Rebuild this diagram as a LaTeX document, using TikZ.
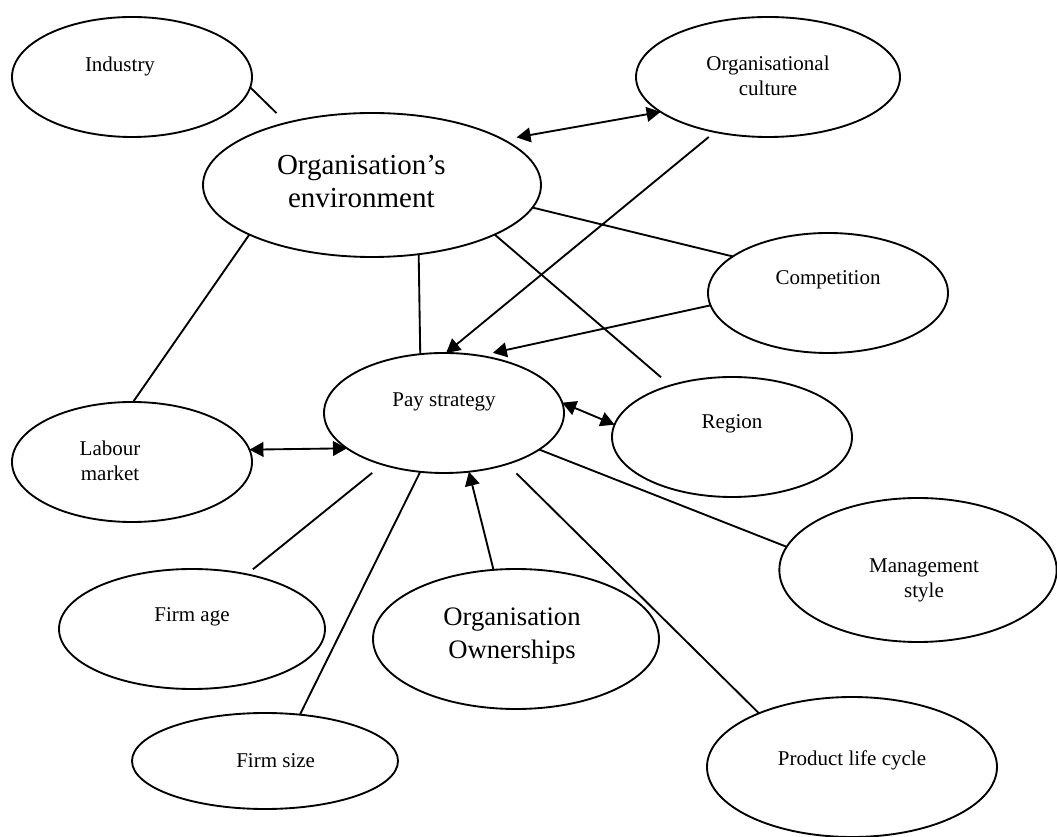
\documentclass[tikz,border=0pt]{standalone}
\usepackage{fontspec}
\setmainfont{Liberation Serif}
\usetikzlibrary{shapes.geometric,arrows.meta}

\tikzset{
  oval/.style={draw, ellipse, line width=1.4pt, inner sep=0pt, outer sep=0pt},
  txt/.style={font=\fontsize{15.75}{18.5}\selectfont, align=center},
  bigtxt/.style={font=\fontsize{21.75}{24.75}\selectfont, align=center},
  link/.style={line width=1.4pt},
}

\begin{document}
\begin{tikzpicture}[x=0.75pt, y=-0.75pt, >={Triangle[length=10.5pt,width=11pt]}]
    \useasboundingbox (0,0) rectangle (1057,837);
    \node[oval, minimum width=180pt, minimum height=90pt,
      label={[txt, xshift=-9pt, yshift=8pt]center:Industry}] (ind) at (132,77) {};
    \node[oval, minimum width=198pt, minimum height=90pt,
      label={[txt, yshift=1pt]center:{Organisational\\culture}}] (cult) at (768,77) {};
    \node[oval, minimum width=253.5pt, minimum height=108pt,
      label={[bigtxt, xshift=-8pt, yshift=2.5pt]center:{Organisation’s\\environment}}] (env) at (372,185) {};
    \node[oval, minimum width=180pt, minimum height=90pt,
      label={[txt, yshift=10pt]center:Competition}] (comp) at (828,293) {};
    \node[oval, minimum width=180pt, minimum height=90pt,
      label={[txt, yshift=8pt]center:Pay strategy}] (pay) at (444,413) {};
    \node[oval, minimum width=180pt, minimum height=90pt,
      label={[txt, yshift=10pt]center:Region}] (reg) at (732,437) {};
    \node[oval, minimum width=180pt, minimum height=90pt,
      label={[txt, xshift=-16.5pt, yshift=1pt]center:{Labour\\market}}] (lab) at (132,462) {};
    \node[oval, minimum width=208pt, minimum height=108pt,
      label={[txt, xshift=4.5pt, yshift=-8pt]center:{Management\\style}}] (mgmt) at (918,570) {};
    \node[oval, minimum width=199.5pt, minimum height=90pt,
      label={[txt, yshift=9pt]center:Firm age}] (age) at (192,629) {};
    \node[oval, minimum width=199.5pt, minimum height=72pt,
      label={[txt, xshift=8pt]center:Firm size}] (size) at (265,761) {};
    \node[oval, minimum width=214.5pt, minimum height=105pt,
      label={[bigtxt, font=\fontsize{20}{24.5}\selectfont, xshift=-3pt, yshift=2pt]center:{Organisation\\Ownerships}}] (own) at (516,639) {};
    \node[oval, minimum width=217.5pt, minimum height=105pt,
      label={[txt, yshift=5pt]center:Product life cycle}] (plc) at (852,767) {};

    \draw[link, shorten >=10.5pt] (ind.-5) -- (env.144);
    \draw[link, <->, shorten <=10pt] (env.19) -- (cult.198);
    \draw[link, ->, shorten <=6pt] (cult.-134) -- (pay.88);
    \draw[link] (env.-8) -- (comp.159);
    \draw[link, ->, shorten >=10pt] (comp.186) -- (pay.58);
    \draw[link, shorten >=9.5pt] (env.-22) -- (reg.140);
    \draw[link] (env.-56) -- (pay.112);
    \draw[link] (env.202) -- (lab.89);
    \draw[link, <->] (lab.6) -- (pay.200);
    \draw[link, <->] (pay.5) -- (reg.174);
    \draw[link] (pay.-21) -- (mgmt.170);
    \draw[link, shorten <=10pt, shorten >=6pt] (pay.220) -- (age.45);
    \draw[link] (pay.248) -- (size.53);
    \draw[link, ->] (own.108) -- (pay.-67);
    \draw[link, shorten <=10pt] (pay.-39) -- (plc.150);
\end{tikzpicture}
\end{document}
